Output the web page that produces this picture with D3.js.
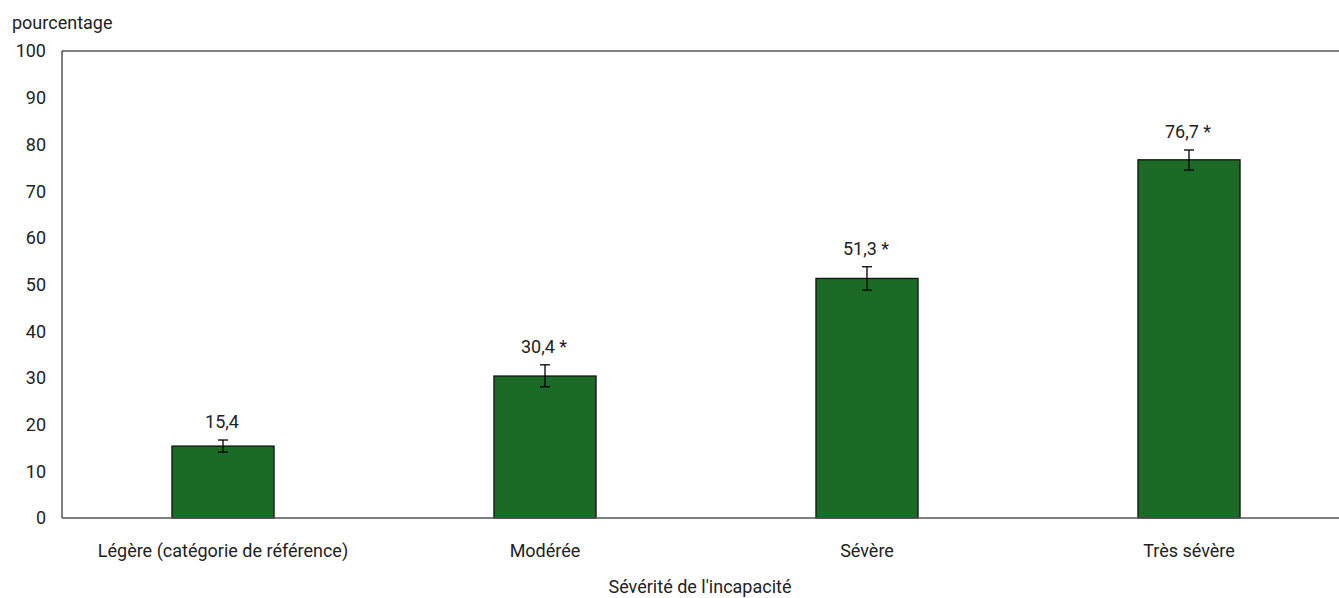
<!DOCTYPE html>
<html>
<head>
<meta charset="utf-8">
<script src="https://cdn.jsdelivr.net/npm/d3@7"></script>
<style>
  html, body { margin: 0; padding: 0; background: #fff; }
  svg text { font-family: Roboto, "Liberation Sans", sans-serif; fill: #222; }
</style>
</head>
<body>
<svg id="chart" width="1339" height="598"></svg>
<script>
// Severity categories and percentages with confidence intervals
const categories = ["Légère (catégorie de référence)", "Modérée", "Sévère", "Très sévère"];
const values = [15.4, 30.4, 51.3, 76.7];
const lowerCI = [14.1, 28.1, 48.8, 74.5];
const upperCI = [16.7, 32.8, 53.8, 78.8];
const significant = [false, true, true, true];
const yTicks = [0, 10, 20, 30, 40, 50, 60, 70, 80, 90, 100];

const svg = d3.select("#chart");
const margin = { left: 62, top: 51, right: -11, bottom: 80 };
const W = 1339, H = 598;
const plotRight = W - margin.right;
const plotBottom = H - margin.bottom;
const FS = 18;

const x = d3.scaleBand().domain(categories).range([margin.left, plotRight]).paddingInner(0.683).paddingOuter(0.3415);
const y = d3.scaleLinear().domain([0, 100]).range([plotBottom, margin.top]);

// frame: left and top lines
svg.append("line").attr("x1", margin.left).attr("x2", margin.left).attr("y1", margin.top).attr("y2", plotBottom)
  .attr("stroke", "#000").attr("stroke-width", 1);
svg.append("line").attr("x1", margin.left).attr("x2", plotRight).attr("y1", margin.top).attr("y2", margin.top)
  .attr("stroke", "#000").attr("stroke-width", 1);

// y tick labels
svg.append("g").selectAll("text").data(yTicks).join("text")
  .attr("x", 46).attr("y", d => y(d)).attr("dy", "0.36em")
  .attr("text-anchor", "end").attr("font-size", FS).text(d => d);

svg.append("text").attr("x", 12).attr("y", 29).attr("font-size", FS).text("pourcentage");

// bars
const data = categories.map((c, i) => ({ c, v: values[i], lo: lowerCI[i], hi: upperCI[i], sig: significant[i] }));
svg.append("g").selectAll("rect").data(data).join("rect")
  .attr("x", d => x(d.c)).attr("width", x.bandwidth())
  .attr("y", d => y(d.v)).attr("height", d => y(0) - y(d.v))
  .attr("fill", "#1b6b27").attr("stroke", "#111").attr("stroke-width", 1.3);

// x axis baseline
svg.append("line").attr("x1", margin.left).attr("x2", plotRight).attr("y1", y(0)).attr("y2", y(0))
  .attr("stroke", "#555").attr("stroke-width", 1.5);

// error bars
const eb = svg.append("g").attr("stroke", "#000").attr("stroke-width", 1.3);
data.forEach(d => {
  const cx = x(d.c) + x.bandwidth() / 2;
  eb.append("line").attr("x1", cx).attr("x2", cx).attr("y1", y(d.lo)).attr("y2", y(d.hi));
  eb.append("line").attr("x1", cx - 5).attr("x2", cx + 5).attr("y1", y(d.lo)).attr("y2", y(d.lo));
  eb.append("line").attr("x1", cx - 5).attr("x2", cx + 5).attr("y1", y(d.hi)).attr("y2", y(d.hi));
});

// value labels (an asterisk marks a significant difference from the reference category)
const fmt = v => v.toFixed(1).replace(".", ",");
svg.append("g").selectAll("text").data(data).join("text")
  .attr("x", d => x(d.c) + x.bandwidth() / 2 - 1)
  .attr("y", d => y(d.hi) - 12)
  .attr("text-anchor", "middle").attr("font-size", FS)
  .text(d => fmt(d.v) + (d.sig ? " *" : ""));

// category labels
svg.append("g").selectAll("text").data(categories).join("text")
  .attr("x", d => x(d) + x.bandwidth() / 2).attr("y", 557)
  .attr("text-anchor", "middle").attr("font-size", FS).text(d => d);

svg.append("text").attr("x", 700).attr("y", 593).attr("text-anchor", "middle")
  .attr("font-size", FS).text("Sévérité de l'incapacité");
</script>
</body>
</html>
